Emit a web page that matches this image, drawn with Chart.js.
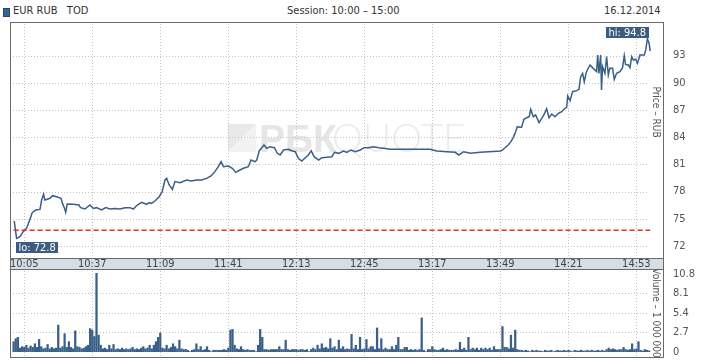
<!DOCTYPE html>
<html>
<head>
<meta charset="utf-8">
<script src="https://cdn.jsdelivr.net/npm/chart.js@4/dist/chart.umd.min.js"></script>
<style>
  body { margin: 0; background: #fff; width: 718px; height: 360px; position: relative; overflow: hidden;
         font-family: "Liberation Sans Narrow", "DejaVu Sans Condensed", Arial, sans-serif; color: #333; }
  .hdr { position: absolute; top: 4px; font-size: 11px; white-space: pre; }
  #sq { position: absolute; left: 3px; top: 8px; width: 5px; height: 7px; background: #3b6391; border: 1px solid #26486e; }
  canvas { position: absolute; left: 0; }
</style>
</head>
<body>
<div id="sq"></div>
<div class="hdr" style="left:13px">EUR RUB   TOD</div>
<div class="hdr" style="left:287px">Session: 10:00 – 15:00</div>
<div class="hdr" style="left:604px">16.12.2014</div>
<canvas id="price" width="718" height="270" style="top:0"></canvas>
<canvas id="volume" width="718" height="91" style="top:269px"></canvas>

<script>
// minutes after 10:00
var priceTime = [0.3, 1.4, 3.0, 4.5, 6.1, 7.7, 8.8, 10.5, 12.4, 13.2, 14.1, 14.7, 17.1, 18.3, 20.2, 22.3, 23.0, 23.8, 24.5, 25.2,
  28.1, 30.7, 31.5, 33.6, 35.9, 37.5, 39.0, 41.4, 43.4, 45.3, 47.7, 50.0, 52.4, 54.7, 56.3, 58.2, 60.2, 62.6, 63.8, 64.9,
  66.5, 68.5, 69.9, 71.2, 72.0, 73.2, 74.7, 75.9, 78.3, 81.4, 83.7, 86.1, 88.4, 90.8, 92.9, 94.7, 96.3, 97.6, 98.7, 101.0,
  102.9, 104.5, 106.5, 108.1, 110.4, 111.7, 113.6, 114.4, 115.6, 117.8, 119.1, 120.6, 122.7, 124.1, 125.4, 127.0, 129.3, 130.9, 132.5, 134.0,
  135.6, 137.2, 138.7, 140.0, 141.4, 143.5, 145.0, 147.4, 149.7, 151.0, 152.9, 155.2, 156.8, 158.7, 160.7, 163.1, 164.9, 167.0, 169.3, 171.7,
  174.0, 177.2, 181.9, 186.6, 191.3, 196.0, 199.2, 203.9, 207.8, 209.4, 211.8, 214.9, 219.6, 229.2, 230.1, 231.2, 232.7, 234.0, 235.1, 235.9,
  237.0, 238.2, 239.0, 240.1, 241.4, 242.6, 243.3, 244.5, 245.6, 247.2, 248.5, 249.7, 250.8, 251.9, 253.2, 254.7, 256.3, 257.9, 259.4, 260.2,
  260.7, 261.8, 263.0, 264.9, 266.0, 266.8, 267.7, 268.5, 269.3, 269.9, 271.2, 272.7, 274.3, 274.8, 275.4, 276.2, 276.6, 277.1, 278.2, 279.0,
  279.8, 280.5, 281.8, 282.6, 283.7, 285.3, 286.5, 287.3, 287.9, 289.2, 290.0, 290.8, 291.6, 292.7, 293.5, 294.7, 296.7, 297.4, 298.2, 299.0, 299.5];
var priceValue = [74.76, 72.85, 73.03, 73.58, 73.95, 74.94, 75.71, 75.97, 76.04, 77.07, 77.73, 77.07, 77.26, 77.55, 77.44, 77.26, 76.7, 76.26, 75.71, 76.63,
  76.6, 76.52, 76.23, 76.08, 76.52, 76.15, 76.23, 75.97, 76.23, 76.08, 76.15, 76.08, 76.23, 76.23, 76.08, 76.52, 76.82, 76.6, 76.78, 76.7,
  76.96, 77.44, 77.99, 79.28, 79.46, 78.73, 78.25, 79.1, 78.98, 79.28, 79.17, 79.28, 79.28, 79.46, 79.72, 80.2, 80.75, 81.3, 80.75, 80.82,
  80.57, 80.12, 80.38, 80.57, 80.75, 81.48, 81.3, 81.48, 82.51, 83.14, 82.77, 82.95, 82.84, 82.22, 82.04, 82.59, 82.66, 82.51, 82.4, 81.67,
  81.37, 81.74, 82.04, 82.51, 81.85, 81.48, 81.74, 81.78, 81.85, 82.33, 82.22, 82.48, 82.33, 82.59, 82.4, 82.59, 82.84, 82.84, 82.95, 82.84,
  82.77, 82.66, 82.66, 82.66, 82.66, 82.66, 82.48, 82.4, 82.33, 82.04, 82.4, 82.22, 82.33, 82.48, 82.59, 82.84, 83.14, 83.51, 83.98, 84.42,
  85.16, 85.09, 85.09, 85.97, 86.15, 86.26, 87.07, 86.26, 86.45, 85.6, 86.08, 86.56, 87.14, 86.15, 86.56, 86.26, 86.63, 86.81, 87.18, 87.29,
  88.54, 88.03, 89.02, 89.13, 89.28, 90.67, 91.04, 90.12, 91.04, 91.41, 91.96, 91.59, 91.23, 93.06, 91.04, 93.06, 89.2, 91.78, 91.04, 92.88,
  90.86, 91.59, 91.59, 90.38, 91.04, 91.23, 91.67, 92.99, 92.03, 91.96, 91.67, 92.88, 92.51, 92.59, 92.14, 93.06, 93.06, 93.62, 94.83, 94.35, 93.5];

// volume per minute, millions, minute 0 .. 299
var volumeValue = [
  1.4, 1.8, 2.0, 0.5, 0.7, 0.6, 0.9, 0.5, 0.8, 0.6, 1.1, 0.6, 1.7, 0.7, 0.4, 0.5, 1.0, 0.4, 0.6, 0.4,
  0.5, 3.7, 0.5, 0.7, 2.5, 0.6, 1.4, 0.6, 0.4, 2.9, 0.7, 0.6, 0.4, 0.5, 0.7, 0.9, 3.2, 3.0, 2.1, 10.9,
  2.3, 0.9, 0.4, 0.5, 0.3, 0.9, 0.4, 1.0, 0.3, 0.4, 0.3, 0.5, 0.3, 0.4, 0.3, 0.4, 0.6, 0.3, 0.4, 0.3,
  0.5, 0.7, 0.4, 0.5, 0.9, 0.4, 0.9, 1.4, 2.0, 2.6, 0.5, 0.4, 0.9, 0.4, 0.6, 1.1, 0.7, 0.4, 1.6, 0.4,
  0.3, 0.3, 0.2, 0, 0.2, 0.3, 1.1, 0.3, 0.7, 0.2, 0.3, 0.7, 0.2, 0, 0.2, 0.2, 0.2, 0.2, 0.2, 0.3,
  0.2, 0.5, 3.0, 3.1, 0.9, 0.4, 0.3, 0.7, 0.3, 0.2, 0.3, 0.2, 0.2, 0.2, 0, 0.9, 3.1, 2.0, 0.3, 0.3,
  0.2, 0.3, 0.3, 0.3, 0.3, 0.7, 0.3, 0.3, 1.6, 0.3, 0.2, 0.3, 0.3, 0.3, 0.2, 0.3, 0.3, 0.2, 0.3, 0,
  0.3, 0.5, 0.3, 0.9, 0.4, 1.1, 0.5, 0.6, 0.4, 1.8, 0.5, 0.7, 0.3, 1.6, 0.4, 0.7, 0.3, 0.4, 0.3, 2.4,
  0.4, 0.9, 0.3, 2.0, 0.3, 0.4, 1.7, 0.4, 0.7, 0.7, 0.3, 3.3, 0.4, 1.8, 0.3, 0.5, 0.3, 0.3, 0.7, 0.3,
  0.9, 2.0, 0.3, 0.3, 0.6, 0.6, 0.2, 0.3, 0.2, 0.3, 0.2, 0.3, 4.7, 0.2, 0, 0.3, 0.3, 0.7, 0.3, 0.2,
  0.2, 0.3, 0.5, 0.2, 0.3, 0.2, 0.2, 0.2, 0.3, 0.2, 1.3, 0.3, 0.5, 0.2, 2.0, 0.3, 0.5, 0.3, 0.5, 0.2,
  0.5, 0.3, 0.5, 0.3, 0.5, 0.2, 0.7, 0.3, 0.3, 0.3, 3.5, 0.6, 0.6, 0.4, 2.3, 0.5, 3.0, 0.3, 0.2, 0.2,
  0.1, 0.2, 0.1, 0, 0.2, 0.1, 0.2, 0.1, 0.1, 0, 0.2, 0.1, 0.1, 0.2, 0, 0.1, 0.2, 0.1, 0.1, 0.2,
  0.1, 0.2, 0.1, 0, 0.2, 0.1, 0.1, 0.2, 0.1, 0.1, 0.2, 0.1, 0.2, 0.1, 0.1, 0.2, 0.1, 0.2, 0.1, 0.3,
  0.5, 0.3, 0.4, 0.3, 0.2, 0.3, 0.3, 0.6, 0.3, 0.2, 0.3, 1.1, 0.3, 0.4, 1.4, 0.2, 0.1, 0.3, 0.2, 0.1];

var timeTicks = [5, 37, 69, 101, 133, 165, 197, 229, 261, 293];
var priceTicks = [72, 75, 78, 81, 84, 87, 90, 93];
var volumeTicks = [0, 2.7, 5.4, 8.1, 10.8];
var prevClose = 73.75;
var hiValue = 94.8, loValue = 72.8;

var xMin = -1.7, xMax = 306;
var blue = '#3a5f88';
var gridColor = '#c4c4c4';
var frameColor = '#6a6a6a';
var fontFamily = '"Liberation Sans Narrow", "DejaVu Sans Condensed", Arial, sans-serif';
var tickFont = { family: fontFamily, size: 11 };

function hhmm(m) {
  var h = 10 + Math.floor(m / 60), mm = m % 60;
  return h + ':' + (mm < 10 ? '0' : '') + mm;
}

// keep right axis a fixed width and stop it padding the plot vertically
function fixRightAxis(s) {
  s.width = 54;
  s.paddingTop = 0;
  s.paddingBottom = 0;
}

// dotted grid, frame and side caption for each panel
function panelPlugin(opts) {
  return {
    id: 'panel',
    beforeDatasetsDraw: function (chart) {
      var c = chart.ctx, a = chart.chartArea, xs = chart.scales.x, ys = chart.scales.y;
      c.save();
      if (opts.watermark) {
        // RBC quote logo in the background
        c.fillStyle = '#e9e9e9';
        c.beginPath(); c.moveTo(228, 124); c.lineTo(256, 124); c.lineTo(228, 152); c.closePath(); c.fill();
        c.fillStyle = '#f2f2f2';
        c.beginPath(); c.moveTo(256, 124); c.lineTo(256, 152); c.lineTo(228, 152); c.closePath(); c.fill();
        c.font = 'bold 39px "Liberation Sans", Arial, sans-serif';
        c.fillStyle = '#e6e6e6';
        c.textBaseline = 'alphabetic';
        c.fillText('РБК', 259, 152);
        c.font = '300 39px Lato, "Liberation Sans", sans-serif';
        c.fillStyle = '#ececec';
        c.fillText('QUOTE', 332, 152);
      }
      c.strokeStyle = gridColor;
      c.lineWidth = 1;
      c.setLineDash([1, 2]);
      opts.gridY.forEach(function (v) {
        var y = Math.round(ys.getPixelForValue(v)) + 0.5;
        c.beginPath(); c.moveTo(a.left + 3, y); c.lineTo(649, y); c.stroke();
      });
      timeTicks.forEach(function (v) {
        var x = Math.round(xs.getPixelForValue(v)) + 0.5;
        c.beginPath(); c.moveTo(x, a.top + 2); c.lineTo(x, a.bottom); c.stroke();
      });
      c.restore();
    },
    afterDatasetsDraw: function (chart) {
      var c = chart.ctx, a = chart.chartArea, xs = chart.scales.x, ys = chart.scales.y;
      c.save();
      c.strokeStyle = frameColor;
      c.lineWidth = 1;
      c.strokeRect(a.left + 0.5, a.top + 0.5, a.right - a.left - 1, a.bottom - a.top);
      if (opts.band) {
        c.fillStyle = '#d5dde5';
        c.fillRect(a.left, a.bottom, a.right - a.left, 11);
        c.strokeRect(a.left + 0.5, a.bottom + 0.5, a.right - a.left - 1, 11);
        c.fillStyle = '#444';
        c.font = '11px ' + fontFamily;
        c.textAlign = 'center';
        c.textBaseline = 'middle';
        timeTicks.forEach(function (v) {
          c.fillText(hhmm(v), xs.getPixelForValue(v), a.bottom + 6.5);
        });
      }
      // caption inside the plot, rotated
      c.translate(656, opts.captionY);
      c.rotate(Math.PI / 2);
      c.fillStyle = '#555';
      c.font = '10px ' + fontFamily;
      c.textAlign = 'center';
      c.textBaseline = 'middle';
      c.fillText(opts.caption, 0, 0);
      c.restore();
      if (opts.hilo) {
        c.save();
        c.font = '11px ' + fontFamily;
        c.textBaseline = 'middle';
        var hx = xs.getPixelForValue(298.2), hy = ys.getPixelForValue(hiValue);
        var t = 'hi: ' + hiValue.toFixed(1), w = c.measureText(t).width + 5;
        c.fillStyle = '#3b5b7f';
        c.fillRect(Math.round(hx + 1 - w), Math.round(hy - 12), Math.round(w), 11);
        c.fillStyle = '#fff';
        c.fillText(t, Math.round(hx + 1 - w) + 2.5, Math.round(hy - 12) + 6);
        var lx = xs.getPixelForValue(1.4), ly = ys.getPixelForValue(loValue);
        t = 'lo: ' + loValue.toFixed(1); w = c.measureText(t).width + 5;
        c.fillStyle = '#3b5b7f';
        c.fillRect(Math.round(lx - 1), Math.round(ly + 3), Math.round(w), 11);
        c.fillStyle = '#fff';
        c.fillText(t, Math.round(lx - 1) + 2.5, Math.round(ly + 3) + 6);
        c.restore();
      }
    }
  };
}

var pricePoints = priceTime.map(function (t, i) { return { x: t, y: priceValue[i] }; });

new Chart(document.getElementById('price'), {
  type: 'line',
  data: {
    datasets: [
      { data: [{ x: 0, y: prevClose }, { x: 299.5, y: prevClose }], borderColor: '#ff2020', borderWidth: 1.5,
        borderDash: [5, 3], pointRadius: 0 },
      { data: pricePoints, borderColor: blue, borderWidth: 1.5, pointRadius: 0, tension: 0 }
    ]
  },
  options: {
    responsive: false, animation: false,
    layout: { padding: { left: 10, top: 22, right: 0, bottom: 0 } },
    plugins: { legend: { display: false }, tooltip: { enabled: false } },
    scales: {
      x: {
        type: 'linear', min: xMin, max: xMax,
        afterBuildTicks: function (s) { s.ticks = timeTicks.map(function (v) { return { value: v }; }); },
        afterFit: function (s) { s.height = 12; },
        grid: { display: false, drawTicks: false }, border: { display: false },
        ticks: { display: false }
      },
      y: {
        position: 'right', min: 70.68, max: 96.7,
        afterBuildTicks: function (s) { s.ticks = priceTicks.map(function (v) { return { value: v }; }); },
        afterFit: fixRightAxis,
        grid: { display: false, drawTicks: false }, border: { display: false },
        ticks: { padding: 9, color: '#555', font: tickFont }
      }
    }
  },
  plugins: [panelPlugin({ gridY: priceTicks, caption: 'Price – RUB', captionY: 112, band: true, hilo: true, watermark: true })]
});

new Chart(document.getElementById('volume'), {
  type: 'bar',
  data: {
    datasets: [
      { data: volumeValue.map(function (v, i) { return { x: i, y: v }; }), backgroundColor: blue,
        barThickness: 1.6, borderWidth: 0 }
    ]
  },
  options: {
    responsive: false, animation: false,
    layout: { padding: { left: 10, top: 0, right: 0, bottom: 3 } },
    plugins: { legend: { display: false }, tooltip: { enabled: false } },
    scales: {
      x: {
        type: 'linear', min: xMin, max: xMax, display: false, offset: false
      },
      y: {
        position: 'right', min: -0.74, max: 11.5,
        afterBuildTicks: function (s) { s.ticks = volumeTicks.map(function (v) { return { value: v }; }); },
        afterFit: fixRightAxis,
        grid: { display: false, drawTicks: false }, border: { display: false },
        ticks: { padding: 9, color: '#555', font: tickFont,
          callback: function (v) { return v === 0 ? '0' : v.toFixed(1); } }
      }
    }
  },
  plugins: [panelPlugin({ gridY: [2.7, 5.4, 8.1], caption: 'Volume – 1 000 000', captionY: 44, band: false, hilo: false, watermark: false })]
});
</script>
</body>
</html>
